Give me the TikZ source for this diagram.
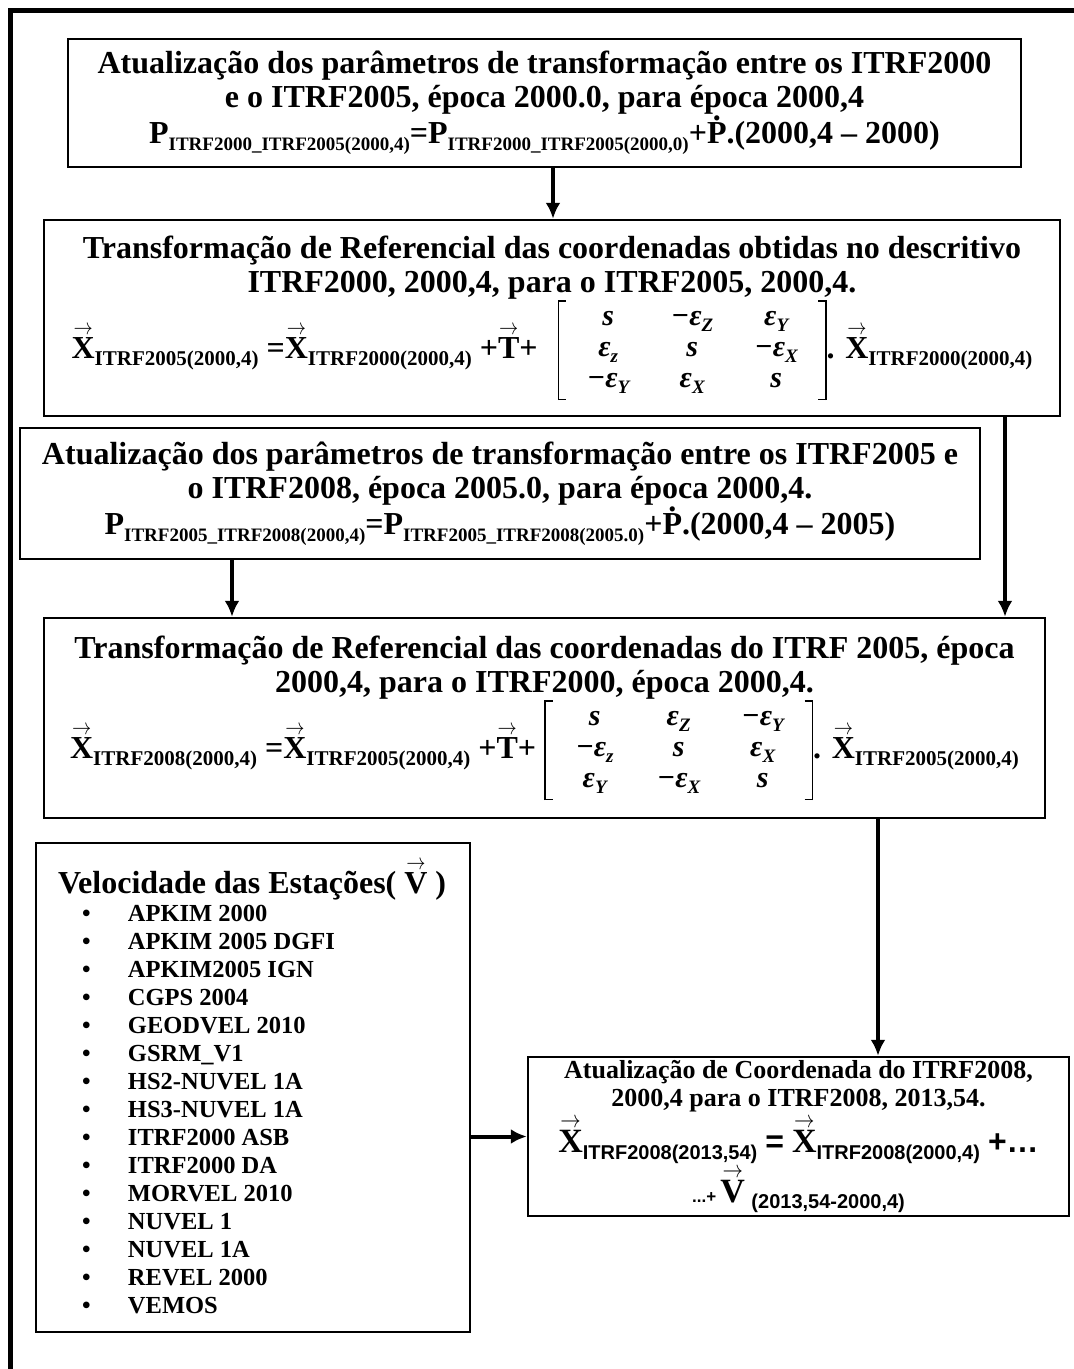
\RequirePackage{fix-cm}
\documentclass[tikz,border=0pt]{standalone}
\usepackage{fontspec}
\setmainfont{Liberation Serif}
\setsansfont{Liberation Sans}
\usetikzlibrary{arrows.meta}
\newcommand\dn[2][19]{\raisebox{-0.22em}{\fontsize{#1}{#1}\selectfont #2}}
\newcommand\vx[1]{\leavevmode\hbox{\rule{0pt}{1.0em}\ooalign{#1\cr\hidewidth\raisebox{0.74em}{\resizebox{0.6em}{0.26em}{$\rightarrow$}}\hidewidth\cr}}}
\newcommand\Pdot{\hbox{\ooalign{P\cr\hidewidth\raisebox{0.72em}{.}\hidewidth\cr}}}
\newcommand\mc[1]{\makebox[84pt]{#1}}
\newcommand\ez[1]{ε\dn[19]{#1}}
\newcommand\lbrk{\hbox{\rule{1.5pt}{100pt}\raisebox{98.5pt}[0pt][0pt]{\rule{7pt}{1.5pt}}\kern-7pt\rule{7pt}{1.5pt}}}
\newcommand\rbrk{\hbox{\rule{7pt}{1.5pt}\kern-7pt\raisebox{98.5pt}[0pt][0pt]{\rule{7pt}{1.5pt}}\rule{1.5pt}{100pt}}}
\newcommand\mtx[9]{$\vcenter{\lbrk}\vcenter{\hbox{\itshape\fontsize{30}{31}\selectfont\begin{tabular}{@{}c@{}c@{}c@{}}\mc{#1}&\mc{#2}&\mc{#3}\\\mc{#4}&\mc{#5}&\mc{#6}\\\mc{#7}&\mc{#8}&\mc{#9}\end{tabular}}}\vcenter{\rbrk}$}
\newcommand\bs[1]{\dn[21]{#1}}
\newcommand\nsp{\spaceskip=0.25em\xspaceskip=0.25em\relax}
\tikzset{
  box/.style={draw, line width=2.5pt, inner sep=0pt, align=center},
  big/.style={font=\bfseries\fontsize{32}{34}\selectfont},
  arr/.style={line width=4pt, -{Latex[length=16pt,width=15pt]}}
}
\begin{document}
\begin{tikzpicture}[x=1pt,y=-1pt]
\useasboundingbox (0,0) rectangle (1074,1369);
\fill[white] (0,0) rectangle (1074,1369);
\draw[line width=5pt] (1074,10) -- (10,10) -- (10,1369);

\node[box, big, minimum width=953pt, minimum height=128pt] (b1) at (544.5,103)
{Atualização dos parâmetros de transformação entre os ITRF2000\\
 e o ITRF2005, época 2000.0, para época 2000,4\\[2pt]
 P\dn{ITRF2000\_ITRF2005(2000,4)}=P\dn{ITRF2000\_ITRF2005(2000,0)}+\Pdot.(2000,4 – 2000)};

\node[box, big, minimum width=1016pt, minimum height=196pt] (b2) at (552,318)
{Transformação de Referencial das coordenadas obtidas no descritivo\\
 ITRF2000, 2000,4, para o ITRF2005, 2000,4.\\[0pt]
 \vx{X}\bs{ITRF2005(2000,4)} =\vx{X}\bs{ITRF2000(2000,4)} +\vx{T}+\hspace{20pt}\mtx{s}{−\ez{Z}}{\ez{Y}}{\ez{z}}{s}{−\ez{X}}{−\ez{Y}}{\ez{X}}{s}. \vx{X}\bs{ITRF2000(2000,4)}};

\node[box, big, minimum width=960pt, minimum height=131pt] (b3) at (500,493.5)
{Atualização dos parâmetros de transformação entre os ITRF2005 e\\
 o ITRF2008, época 2005.0, para época 2000,4.\\[2pt]
 P\dn{ITRF2005\_ITRF2008(2000,4)}=P\dn{ITRF2005\_ITRF2008(2005.0)}+\Pdot.(2000,4 – 2005)};

\node[box, big, minimum width=1001pt, minimum height=200pt] (b4) at (544.5,718)
{Transformação de Referencial das coordenadas do ITRF 2005, época\\
 2000,4, para o ITRF2000, época 2000,4.\\[0pt]
 \vx{X}\bs{ITRF2008(2000,4)} =\vx{X}\bs{ITRF2005(2000,4)} +\vx{T}+\hspace{8pt}\mtx{s}{\ez{Z}}{−\ez{Y}}{−\ez{z}}{s}{\ez{X}}{\ez{Y}}{−\ez{X}}{s}. \vx{X}\bs{ITRF2005(2000,4)}};

\node[box, minimum width=434pt, minimum height=489pt, text width=434pt, align=left, font=\bfseries] (b5) at (253,1087.5)
{{\fontsize{32}{36}\selectfont\nsp\noindent\hspace*{22pt}Velocidade das Estações( \vx{V} )\par}
 {\fontsize{24.5}{28}\selectfont\nsp\noindent
 \hspace*{46pt}\makebox[46pt][l]{•}APKIM 2000\\
 \hspace*{46pt}\makebox[46pt][l]{•}APKIM 2005 DGFI\\
 \hspace*{46pt}\makebox[46pt][l]{•}APKIM2005 IGN\\
 \hspace*{46pt}\makebox[46pt][l]{•}CGPS 2004\\
 \hspace*{46pt}\makebox[46pt][l]{•}GEODVEL 2010\\
 \hspace*{46pt}\makebox[46pt][l]{•}GSRM\_V1\\
 \hspace*{46pt}\makebox[46pt][l]{•}HS2-NUVEL 1A\\
 \hspace*{46pt}\makebox[46pt][l]{•}HS3-NUVEL 1A\\
 \hspace*{46pt}\makebox[46pt][l]{•}ITRF2000 ASB\\
 \hspace*{46pt}\makebox[46pt][l]{•}ITRF2000 DA\\
 \hspace*{46pt}\makebox[46pt][l]{•}MORVEL 2010\\
 \hspace*{46pt}\makebox[46pt][l]{•}NUVEL 1\\
 \hspace*{46pt}\makebox[46pt][l]{•}NUVEL 1A\\
 \hspace*{46pt}\makebox[46pt][l]{•}REVEL 2000\\
 \hspace*{46pt}\makebox[46pt][l]{•}VEMOS\par}};

\node[box, minimum width=541pt, minimum height=159pt, text width=541pt, align=center, font=\bfseries] (b6) at (798.5,1136.5)
{{\fontsize{26}{28}\selectfont\nsp Atualização de Coordenada do ITRF2008,\\
 2000,4 para o ITRF2008, 2013,54.\par}
 \vspace{5pt}
 {\fontsize{32}{34}\selectfont\nsp{\fontsize{34}{36}\selectfont\vx{X}}{\sffamily\dn[20]{ITRF2008(2013,54)} = }{\fontsize{34}{36}\selectfont\vx{X}}{\sffamily\dn[20]{ITRF2008(2000,4)} +…}\par}
 \vspace{4pt}
 {\fontsize{26}{28}\selectfont\nsp{\sffamily\fontsize{17}{18}\selectfont\nsp ...+ }{\fontsize{34}{36}\selectfont\vx{V}}{\sffamily\dn[20]{ (2013,54-2000,4)}}\par}};

\draw[arr] ([xshift=8.5pt]b1.south) -- ([xshift=8.5pt]b1.south |- b2.north);
\draw[arr] ([xshift=453pt]b2.south) -- ([xshift=453pt]b2.south |- b4.north);
\draw[arr] ([xshift=-268pt]b3.south) -- ([xshift=-268pt]b3.south |- b4.north);
\draw[arr] ([xshift=333.5pt]b4.south) -- ([xshift=333.5pt]b4.south |- b6.north);
\draw[arr] (b5.east |- b6.west) -- (b6.west);
\end{tikzpicture}
\end{document}
